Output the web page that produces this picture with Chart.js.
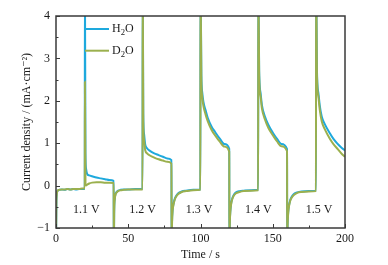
<!DOCTYPE html>
<html><head><meta charset="utf-8">
<script src="https://cdn.jsdelivr.net/npm/chart.js@4/dist/chart.umd.min.js"></script>
<style>html,body{margin:0;padding:0;background:#fff}#wrap{width:388px;height:265px}</style>
</head><body><div id="wrap"><canvas id="c" width="388" height="265"></canvas></div>
<script>
// Time axis samples (s), shared by both series
const timeS = [
  0, 0.3, 1, 2, 4, 6, 8, 10, 12, 14, 16, 18, 19.9,
  20, 20.4, 20.8, 21.5, 23, 25, 28, 31, 34, 37, 39.9,
  40, 40.3, 40.7, 41.2, 42, 43, 44.6, 47, 50, 55, 59.9,
  60, 60.4, 61, 61.7, 63, 65, 68, 71, 74, 77, 79.9,
  80, 80.3, 80.7, 81.2, 82, 83, 84.6, 87, 90, 95, 99.9,
  100, 100.6, 101.2, 102, 103.5, 105, 107.7, 110, 113.5, 116.5, 119.9,
  120, 120.3, 120.7, 121.2, 122, 123, 124.6, 127, 130, 135, 139.9,
  140, 140.6, 141.6, 142.5, 144.6, 147, 150.4, 153, 156, 159.9,
  160, 160.3, 160.7, 161.2, 162, 163, 164.6, 167, 170, 175, 179.9,
  180, 180.6, 181.6, 182.5, 183.9, 186, 189.6, 192, 195, 198, 200
];
// Current density (mA·cm^-2), H2O
const h2oCurrent = [
  -1.5, -0.35, -0.13, -0.1, -0.09, -0.1, -0.08, -0.09, -0.08, -0.09, -0.08, -0.08, -0.08,
  5, 0.75, 0.4, 0.28, 0.24, 0.22, 0.19, 0.17, 0.15, 0.13, 0.11,
  -1.5, -0.55, -0.3, -0.2, -0.15, -0.12, -0.1, -0.09, -0.09, -0.08, -0.08,
  5, 1.7, 1.2, 0.98, 0.88, 0.82, 0.76, 0.72, 0.68, 0.64, 0.6,
  -1.5, -0.85, -0.58, -0.45, -0.33, -0.25, -0.18, -0.14, -0.12, -0.1, -0.09,
  5, 2.6, 2.2, 1.98, 1.78, 1.6, 1.39, 1.27, 1.1, 0.98, 0.87,
  -1.5, -0.85, -0.58, -0.42, -0.3, -0.22, -0.16, -0.13, -0.12, -0.11, -0.1,
  5, 2.7, 2.18, 1.9, 1.63, 1.43, 1.23, 1.1, 0.98, 0.86,
  -1.5, -0.9, -0.62, -0.48, -0.35, -0.27, -0.2, -0.16, -0.14, -0.13, -0.12,
  5, 2.7, 2.18, 1.9, 1.63, 1.45, 1.23, 1.1, 0.98, 0.88, 0.83
];
// Current density (mA·cm^-2), D2O
const d2oCurrent = [
  -1.5, -0.38, -0.13, -0.1, -0.09, -0.09, -0.08, -0.09, -0.08, -0.08, -0.08, -0.07, -0.07,
  2.45, 0.05, 0.0, 0.02, 0.05, 0.07, 0.08, 0.08, 0.07, 0.07, 0.06,
  -1.5, -0.58, -0.32, -0.21, -0.16, -0.13, -0.11, -0.1, -0.09, -0.09, -0.09,
  5, 1.5, 1.05, 0.84, 0.76, 0.71, 0.66, 0.62, 0.59, 0.56, 0.52,
  -1.5, -0.88, -0.6, -0.47, -0.35, -0.27, -0.2, -0.15, -0.13, -0.11, -0.1,
  5, 2.5, 2.1, 1.88, 1.68, 1.52, 1.31, 1.19, 1.03, 0.92, 0.8,
  -1.5, -0.88, -0.6, -0.44, -0.32, -0.24, -0.18, -0.15, -0.13, -0.12, -0.11,
  5, 2.6, 2.1, 1.82, 1.56, 1.36, 1.17, 1.04, 0.93, 0.81,
  -1.5, -0.92, -0.65, -0.5, -0.37, -0.29, -0.22, -0.17, -0.15, -0.14, -0.13,
  5, 2.6, 2.1, 1.8, 1.52, 1.33, 1.1, 0.98, 0.86, 0.74, 0.68
];
// Potential step annotations
const stepLabels = ['1.1 V', '1.2 V', '1.3 V', '1.4 V', '1.5 V'];
const stepLabelTime = [21, 60, 99, 140, 182];
const stepLabelY = -0.58;
// Axes
const xMin = 0, xMax = 200, xMajor = 50, xMinor = 25;
const yMin = -1, yMax = 4, yMajor = 1, yMinor = 0.5;
const seriesNames = ['H2O', 'D2O'];
const seriesColors = ['#1ea9dd', '#9bb04e'];

const SERIF = "'Liberation Serif', 'DejaVu Serif', serif";
const toPts = arr => timeS.map((t, i) => ({x: t, y: arr[i]}));

function drawChem(ctx, x, y, base, sub, tail, size) {
  ctx.font = size + 'px ' + SERIF;
  ctx.textBaseline = 'middle';
  ctx.textAlign = 'left';
  ctx.fillText(base, x, y);
  let w = ctx.measureText(base).width;
  ctx.font = (size * 0.72) + 'px ' + SERIF;
  ctx.fillText(sub, x + w, y + size * 0.3);
  w += ctx.measureText(sub).width;
  ctx.font = size + 'px ' + SERIF;
  ctx.fillText(tail, x + w, y);
}

const decor = {
  id: 'decor',
  afterDatasetsDraw(chart) {
    const {ctx, chartArea: a, scales: {x, y}} = chart;
    ctx.save();
    ctx.fillStyle = '#1a1a1a';
    ctx.font = '12px ' + SERIF;
    ctx.textAlign = 'center';
    ctx.textBaseline = 'middle';
    stepLabels.forEach((s, i) => {
      ctx.fillText(s, x.getPixelForValue(stepLabelTime[i]), y.getPixelForValue(stepLabelY));
    });
    const lx0 = a.left + 29, lx1 = a.left + 53;
    const ly = [a.top + 13, a.top + 34.7];
    seriesNames.forEach((n, i) => {
      ctx.strokeStyle = seriesColors[i];
      ctx.lineWidth = 2;
      ctx.beginPath(); ctx.moveTo(lx0, ly[i]); ctx.lineTo(lx1, ly[i]); ctx.stroke();
      ctx.fillStyle = '#1a1a1a';
      drawChem(ctx, lx1 + 3, ly[i], n[0], '2', 'O', 12);
    });
    ctx.restore();
  },
  afterDraw(chart) {
    const {ctx, chartArea: a, scales: {x, y}} = chart;
    ctx.save();
    ctx.strokeStyle = '#3a3a3a';
    ctx.lineWidth = 1;
    for (let v = xMin; v <= xMax; v += xMinor) {
      const px = Math.round(x.getPixelForValue(v)) + 0.5;
      const len = (v % xMajor === 0) ? 4 : 2.5;
      ctx.beginPath(); ctx.moveTo(px, a.bottom); ctx.lineTo(px, a.bottom - len); ctx.stroke();
    }
    for (let v = yMin; v <= yMax + 1e-9; v += yMinor) {
      const py = Math.round(y.getPixelForValue(v)) + 0.5;
      const len = (Math.abs(v - Math.round(v)) < 1e-9) ? 4 : 2.5;
      ctx.beginPath(); ctx.moveTo(a.left, py); ctx.lineTo(a.left + len, py); ctx.stroke();
    }
    ctx.lineWidth = 1.5;
    ctx.strokeRect(a.left, a.top, a.right - a.left, a.bottom - a.top);
    ctx.fillStyle = '#1a1a1a';
    ctx.font = '12px ' + SERIF;
    ctx.textAlign = 'center';
    ctx.textBaseline = 'middle';
    ctx.fillText('Time / s', (a.left + a.right) / 2, 255);
    ctx.translate(27, (a.top + a.bottom) / 2);
    ctx.rotate(-Math.PI / 2);
    ctx.fillText('Current density / (mA·cm\u207B\u00B2)', 0, 0);
    ctx.restore();
  }
};

new Chart(document.getElementById('c'), {
  type: 'line',
  data: {
    datasets: [
      {label: 'H2O', data: toPts(h2oCurrent), borderColor: seriesColors[0], order: 1},
      {label: 'D2O', data: toPts(d2oCurrent), borderColor: seriesColors[1], order: 0}
    ]
  },
  options: {
    responsive: false,
    animation: false,
    devicePixelRatio: 1,
    layout: {padding: {top: 16, right: 43, left: 0, bottom: 0}},
    elements: {
      point: {radius: 0},
      line: {borderWidth: 2, cubicInterpolationMode: 'monotone', fill: false}
    },
    datasets: {line: {clip: 0}},
    plugins: {legend: {display: false}, tooltip: {enabled: false}},
    scales: {
      x: {
        type: 'linear', min: xMin, max: xMax,
        grid: {display: false, drawTicks: false},
        border: {display: false},
        ticks: {stepSize: xMajor, padding: 4, color: '#1a1a1a', font: {family: SERIF, size: 12}},
        afterFit: s => { s.height = 37; }
      },
      y: {
        min: yMin, max: yMax,
        grid: {display: false, drawTicks: false},
        border: {display: false},
        ticks: {stepSize: yMajor, padding: 6, color: '#1a1a1a', font: {family: SERIF, size: 12},
          callback: v => String(v).replace('-', '\u2212')},
        afterFit: s => { s.width = 56; }
      }
    }
  },
  plugins: [decor]
});
</script>
</body></html>
